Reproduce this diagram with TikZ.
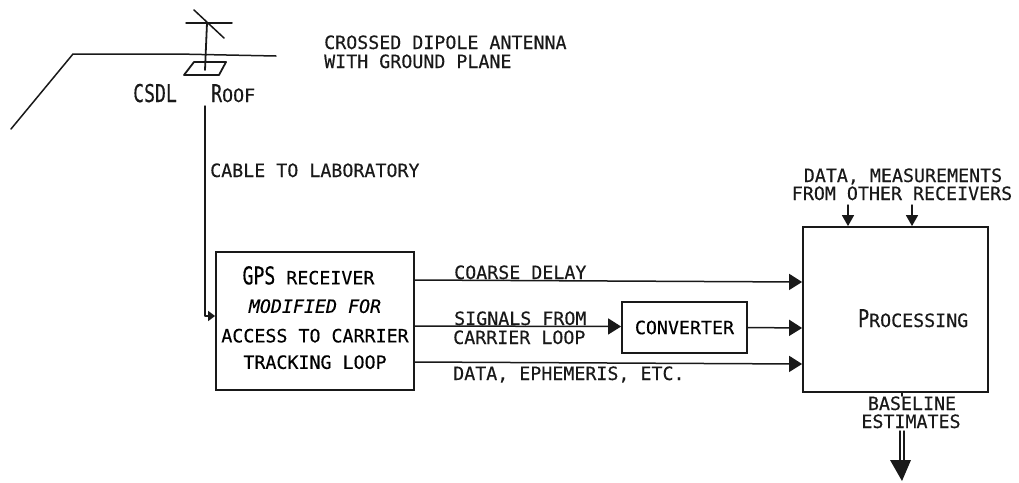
\documentclass[tikz,border=0pt]{standalone}
\usepackage{fontspec}
\usepackage{graphicx}
\setmainfont{DejaVu Sans Mono}[FakeBold=0.35]
\usetikzlibrary{arrows.meta}
\newcommand{\tallcap}[1]{{\fontsize{24.5}{24.5}\selectfont\scalebox{0.74}[1]{#1}}}
\tikzset{
  wire/.style={line width=1.5pt,draw=black!90,line cap=round,line join=round},
  flow/.style={wire,-{Triangle[length=13pt,width=16pt]}},
  smallflow/.style={wire,-{Triangle[length=11pt,width=12pt]}},
  blockbox/.style={draw=black!90,line width=1.8pt,inner sep=0pt,align=center,font=\fontsize{18.3}{27.5}\selectfont},
  lbl/.style={anchor=base west,inner sep=0pt,font=\fontsize{18.3}{22}\selectfont,text=black!90},
  mid/.style={anchor=base,inner sep=0pt,font=\fontsize{18.3}{22}\selectfont,text=black!90}
}
\begin{document}
\begin{tikzpicture}[x=1pt,y=-1pt]
\useasboundingbox (0,0) rectangle (1019,482);
% roof
\draw[wire] (11,129) -- (73,54) -- (177,54) -- (276,56);
% antenna
\draw[wire,line width=1.8pt] (207,23) -- (205,70);
\draw[wire] (186,23) -- (232,23);
\draw[wire] (194,10) -- (224,38);
\draw[wire,line width=1.8pt] (184,75) -- (194,62) -- (226,62) -- (219,75) -- cycle;
% labels top
\node[lbl] (ant1) at (324,49) {CROSSED DIPOLE ANTENNA};
\node[lbl] (ant2) at (324,68) {WITH GROUND PLANE};
\node[lbl] (csdl) at (133,102) {\tallcap{CSDL}};
\node[lbl] (roof) at (211,102) {\tallcap{R}OOF};
\node[lbl] (cable) at (210,177) {CABLE TO LABORATORY};
% blocks
\node[blockbox,minimum width=198pt,minimum height=138pt] (gps) at (315,321)
  {\tallcap{GPS} RECEIVER\hspace*{13pt}\\[1pt]
   \textit{MODIFIED FOR}\hspace*{20pt}\\[2pt]
   ACCESS TO CARRIER\hspace*{3pt}\\[-1pt]
   TRACKING LOOP\rule[-7pt]{0pt}{7pt}};
\node[blockbox,minimum width=125pt,minimum height=51pt] (conv) at (684.5,327.5) {CONVERTER};
\node[blockbox,minimum width=185pt,minimum height=165pt] (proc) at (895.5,309.5) {};
\node[lbl] (proctext) at (858,327) {\tallcap{P}ROCESSING};
% signal labels
\node[lbl] (coarse) at (454,279) {COARSE DELAY};
\node[lbl] (sig1) at (454,325) {SIGNALS FROM};
\node[lbl] (sig2) at (453,344) {CARRIER LOOP};
\node[lbl] (dataeph) at (453,380) {DATA, EPHEMERIS, ETC.};
\node[mid] (meas1) at (903,182) {DATA, MEASUREMENTS};
\node[mid] (meas2) at (902,200) {FROM OTHER RECEIVERS};
\node[mid] (base1) at (912,410) {BASELINE};
\node[mid] (base2) at (911,428) {ESTIMATES};
% connectors
\coordinate (cabletop) at (205,106);
\coordinate (cablebend) at (205,316);
\draw[wire,-{Triangle[length=7pt,width=10pt]}] (cabletop) -- (cablebend) -- ([yshift=5pt]gps.west);
\draw[flow] ([yshift=41pt]gps.east) -- ([yshift=27.5pt]proc.west);
\draw[flow] ([yshift=-5pt]gps.east) -- ([yshift=1pt]conv.west);
\draw[flow] ([yshift=-41pt]gps.east) -- ([yshift=-54.5pt]proc.west);
\draw[flow] (conv.east) -- ([yshift=-18.5pt]proc.west);
\coordinate (in1) at (848,205);
\coordinate (in2) at (912,205);
\draw[smallflow] (in1) -- (in1 |- proc.north);
\draw[smallflow] (in2) -- (in2 |- proc.north);
\coordinate (outa) at (900,431);
\coordinate (outb) at (904,431);
\coordinate (outtip) at (902,481);
\draw[wire] (902,392) -- (902,396);
\draw[wire] (outa) -- (900,462);
\draw[wire] (outb) -- (904,462);
\fill[black!90] (890,460) -- (911,460) -- (outtip) -- cycle;
\end{tikzpicture}
\end{document}
